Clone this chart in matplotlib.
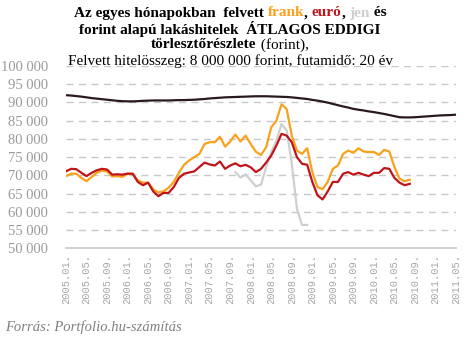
import numpy as np
import matplotlib
matplotlib.use("Agg")
import matplotlib.pyplot as plt

# havi adatok 2005.01 - 2011.05
months = [f"{y}.{m:02d}." for y in range(2005, 2012) for m in range(1, 13)][:77]

huf = [92000, 91900, 91750, 91600, 91400, 91200, 91050, 90900, 90750, 90600,
       90450, 90350, 90300, 90300, 90350, 90450, 90500, 90550, 90550, 90550,
       90550, 90600, 90650, 90650, 90700, 90750, 90850, 90950, 91100, 91200,
       91300, 91400, 91450, 91500, 91550, 91600, 91650, 91700, 91700, 91700,
       91650, 91600, 91550, 91500, 91400, 91250, 91100, 90950, 90700, 90500,
       90250, 89950, 89600, 89250, 88900, 88600, 88250, 88000, 87800, 87550,
       87350, 87100, 86850, 86550, 86250, 85950, 85900, 85900, 85950, 86050,
       86150, 86250, 86350, 86450, 86500, 86550, 86650]

chf = [69800, 70450, 70450, 69300, 68400, 69550, 70700, 71300, 71100, 69700,
       69800, 69600, 70400, 70400, 68600, 68000, 68000, 66200, 65300, 65650,
       66600, 68200, 70700, 72900, 74100, 75000, 75900, 78600, 79100, 79100,
       80600, 77900, 79300, 81200, 79300, 80900, 78600, 76500, 75600, 77700,
       83200, 85000, 89500, 88200, 80900, 76800, 75900, 77450, 70900, 66800,
       66200, 68200, 71800, 72700, 75900, 76800, 76200, 77450, 76550, 76400,
       76400, 75600, 77000, 76550, 72300, 69100, 68400, 68800]

eur = [71100, 71800, 71700, 70700, 69800, 70700, 71400, 71800, 71600, 70200,
       70300, 70200, 70500, 70450, 68200, 67300, 68000, 65600, 64300, 65200,
       65200, 66800, 69300, 70450, 70800, 71100, 72300, 73500, 73000, 72700,
       73800, 71800, 72700, 73300, 72500, 72900, 72200, 70900, 71800, 73500,
       75450, 78200, 81400, 80900, 79100, 75000, 73200, 72900, 68200, 64550,
       63400, 65600, 68200, 68200, 70450, 70900, 70200, 70700, 70200, 69800,
       70700, 70700, 72000, 71800, 69300, 68000, 67300, 67700]

jpy_start = 33
jpy = [70900, 69400, 70300, 68600, 67000, 67450, 72300, 76400, 79500, 84100,
       82300, 73200, 60900, 56400, 56400]

c_huf = "#2a1a1e"
c_chf = "#f9a11b"
c_eur = "#c0141b"
c_jpy = "#cfcfcf"
c_grey = "#9a9a9a"

fig = plt.figure(figsize=(4.67, 3.42), dpi=100)
W, H = 467, 342
ax = fig.add_axes([66 / W, (H - 248.3) / H, 390 / W, (248.3 - 66) / H])

x_all = np.arange(len(months))
ax.plot(x_all[:len(huf)], huf, color=c_huf, lw=1.6, solid_capstyle="butt", zorder=3)
ax.plot(x_all[:len(chf)], chf, color=c_chf, lw=1.6, zorder=3)
ax.plot(x_all[jpy_start:jpy_start + len(jpy)], jpy, color=c_jpy, lw=1.6, zorder=2)
ax.plot(x_all[:len(eur)], eur, color=c_eur, lw=1.6, zorder=4)

ax.set_xlim(0, 76)
ax.set_ylim(50000, 100000)

yticks = np.arange(50000, 100001, 5000)
ax.set_yticks(yticks)
ax.set_yticklabels([f"{v // 1000} 000" for v in yticks],
                   fontfamily="Liberation Serif", fontsize=10.5, color=c_grey)
for v in yticks[1:]:
    ax.axhline(v, color="#c8c8c8", lw=1, ls=(0, (5, 4)), zorder=1)

ax.set_xticks(x_all[::4])
ax.set_xticklabels(months[::4], rotation=90, fontfamily="Liberation Mono",
                   fontsize=7.5, color="#a6a6a6")
ax.tick_params(axis="both", length=0)
ax.tick_params(axis="y", pad=13)
ax.tick_params(axis="x", pad=4)

for s in ["top", "right", "left"]:
    ax.spines[s].set_visible(False)
ax.spines["bottom"].set_color("#c8c8c8")
ax.spines["bottom"].set_linewidth(1.2)

# cim tobbszinu szavakkal
renderer = fig.canvas.get_renderer()
TFONT = "Liberation Serif"
TSIZE = 11


def title_line(parts, y_px):
    texts = []
    for s, c, w in parts:
        t = fig.text(0, 1 - y_px / H, s, color=c, fontweight=w, fontfamily=TFONT,
                     fontsize=TSIZE, va="center", ha="left")
        texts.append(t)
    widths = [t.get_window_extent(renderer).width for t in texts]
    x = 230 - sum(widths) / 2
    for t, wd in zip(texts, widths):
        t.set_x(x / W)
        x += wd


title_line([("Az egyes hónapokban  felvett ", "black", "bold"),
            ("frank", c_chf, "bold"), (", ", "black", "bold"),
            ("euró", c_eur, "bold"), (", ", "black", "bold"),
            ("jen", c_jpy, "bold"), (" és", "black", "bold")], 13)
title_line([("forint alapú lakáshitelek  ÁTLAGOS EDDIGI", "black", "bold")], 29)
title_line([("törlesztőrészlete", "black", "bold"), (" (forint),", "black", "normal")], 45)
title_line([("Felvett hitelösszeg: 8 000 000 forint, futamidő: 20 év", "black", "normal")], 61)

fig.text(5 / W, 1 - 327 / H, "Forrás: Portfolio.hu-számítás", fontfamily="Liberation Serif",
         fontstyle="italic", fontsize=10.5, color="#808080", va="center", ha="left")

fig.savefig("out.png", dpi=100)
